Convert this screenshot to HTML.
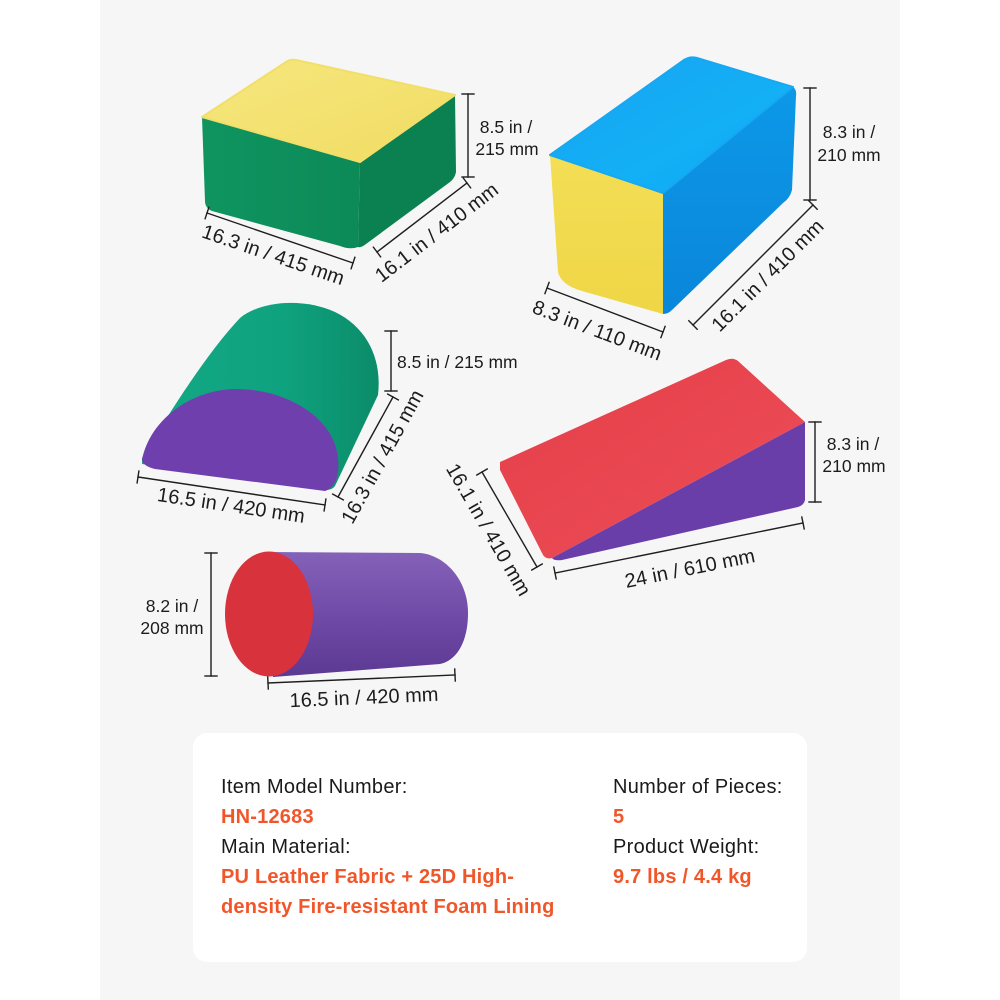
<!DOCTYPE html>
<html><head><meta charset="utf-8"><style>
html,body{margin:0;padding:0;background:#fff;}
svg{display:block;}
.d{stroke:#1e1e1e;stroke-width:1.4;fill:none;stroke-linecap:square}
.l{font-family:"Liberation Sans",sans-serif;fill:#1c1c1c;}
.h{font-size:17.5px;}
.r{font-size:20px;}
.k{font-family:"Liberation Sans",sans-serif;font-size:20px;fill:#1a1a1a;letter-spacing:0.3px}
.o{font-family:"Liberation Sans",sans-serif;font-size:20px;fill:#f1562b;font-weight:bold;letter-spacing:0.2px}
</style></head><body>
<svg width="1000" height="1000" viewBox="0 0 1000 1000" xmlns="http://www.w3.org/2000/svg">
<defs>
<linearGradient id="yTop" x1="0" y1="0" x2="1" y2="1"><stop offset="0" stop-color="#f6e77e"/><stop offset="1" stop-color="#f1dc63"/></linearGradient>
<linearGradient id="gFront" x1="0" y1="0" x2="1" y2="0"><stop offset="0" stop-color="#0f9460"/><stop offset="1" stop-color="#0c8a58"/></linearGradient>
<linearGradient id="bTop" x1="0" y1="0" x2="1" y2="1"><stop offset="0" stop-color="#17a3ef"/><stop offset="0.6" stop-color="#13b0f6"/><stop offset="1" stop-color="#0ea6f0"/></linearGradient>
<linearGradient id="bSide" x1="0" y1="0" x2="0" y2="1"><stop offset="0" stop-color="#0d98e8"/><stop offset="1" stop-color="#0a86da"/></linearGradient>
<linearGradient id="yFront" x1="0" y1="0" x2="0" y2="1"><stop offset="0" stop-color="#f3de55"/><stop offset="1" stop-color="#efd646"/></linearGradient>
<linearGradient id="teal" x1="0" y1="0" x2="1" y2="0"><stop offset="0" stop-color="#13a985"/><stop offset="0.6" stop-color="#0fa27e"/><stop offset="1" stop-color="#0b8c69"/></linearGradient>
<linearGradient id="red" x1="0" y1="0" x2="1" y2="1"><stop offset="0" stop-color="#e53f4a"/><stop offset="1" stop-color="#ec4d56"/></linearGradient>
<linearGradient id="cyl" x1="0" y1="0" x2="0" y2="1"><stop offset="0" stop-color="#8562b9"/><stop offset="0.5" stop-color="#704ba8"/><stop offset="1" stop-color="#5c3993"/></linearGradient>
</defs>
<rect x="0" y="0" width="1000" height="1000" fill="#ffffff"/>
<rect x="100" y="0" width="800" height="1000" fill="#f6f6f6"/>

<!-- Cube -->
<path d="M202,117 L360,162 L358,247 Q350,250 340,246 L212,211 Q205,208 205,201 Z" fill="url(#gFront)"/>
<path d="M360,162 L455,95 L456,172 Q455,178 450,182 L366,244 Q361,248 358,247 Z" fill="#0b8151"/>
<path d="M202,117 L286,62 Q290,59 296,60 L455,95 L360,162 Z" fill="url(#yTop)" stroke="#f2df6a" stroke-width="2" stroke-linejoin="round"/>

<!-- Blue box -->
<path d="M663,193 L793,87 Q797,90 796,96 L792,190 Q790,198 783,203 L672,310 Q668,314 663,314 Z" fill="url(#bSide)"/>
<path d="M550,155 L663,193 L663,314 L582,291 Q561,285 558,272 Z" fill="url(#yFront)"/>
<path d="M550,155 L684,60 Q690,56 697,58 L793,87 L663,193 Z" fill="url(#bTop)" stroke="#16a8f2" stroke-width="2" stroke-linejoin="round"/>

<!-- Half cylinder -->
<path d="M142,458 C165,420 205,355 240,318 C262,300 305,298 335,312 C368,328 382,360 378,395 L335,486 Q332,490 326,490 L142,464 Z" fill="url(#teal)"/>
<path d="M142,460 C150,420 190,390 235,389 C290,389 335,420 338,458 C340,478 334,488 325,491 L155,469 Q143,466 142,460 Z" fill="#6f40ad"/>

<!-- Wedge -->
<path d="M500,462 L726,360 Q733,357 738,361 L805,422 L552,558 Q545,560 542,553 L500,470 Z" fill="url(#red)"/>
<path d="M805,422 L805,500 Q804,505 798,507 L562,560 Q554,561 552,558 Z" fill="#6a3ea8"/>

<!-- Cylinder -->
<path d="M267,552 L420,553 C445,555 468,580 468,613 C468,640 458,660 440,664 L273,677 Z" fill="url(#cyl)"/>
<ellipse cx="269" cy="614" rx="44" ry="62.5" fill="#d8333d"/>

<!-- Dimension lines -->
<g class="d">
<line x1="207" y1="213" x2="353" y2="263"/><line x1="205.1" y1="218.7" x2="208.9" y2="207.3"/><line x1="351.1" y1="268.7" x2="354.9" y2="257.3"/>
<line x1="377" y1="252" x2="467" y2="183"/><line x1="380.6" y1="256.8" x2="373.4" y2="247.2"/><line x1="470.6" y1="187.8" x2="463.4" y2="178.2"/>
<line x1="468" y1="94" x2="468" y2="177"/><line x1="462" y1="94" x2="474" y2="94"/><line x1="462" y1="177" x2="474" y2="177"/>
<line x1="810" y1="88" x2="810" y2="200"/><line x1="804" y1="88" x2="816" y2="88"/><line x1="804" y1="200" x2="816" y2="200"/>
<line x1="547" y1="288" x2="663" y2="332"/><line x1="544.9" y1="293.6" x2="549.1" y2="282.4"/><line x1="660.9" y1="337.6" x2="665.1" y2="326.4"/>
<line x1="693" y1="325" x2="813" y2="205"/><line x1="697.2" y1="329.2" x2="688.8" y2="320.8"/><line x1="817.2" y1="209.2" x2="808.8" y2="200.8"/>
<line x1="391" y1="331" x2="391" y2="391"/><line x1="385" y1="331" x2="397" y2="331"/><line x1="385" y1="391" x2="397" y2="391"/>
<line x1="338" y1="497" x2="393" y2="397"/><line x1="343.3" y1="499.9" x2="332.7" y2="494.1"/><line x1="398.3" y1="399.9" x2="387.7" y2="394.1"/>
<line x1="138" y1="477" x2="325" y2="505"/><line x1="137.1" y1="482.9" x2="138.9" y2="471.1"/><line x1="324.1" y1="510.9" x2="325.9" y2="499.1"/>
<line x1="815" y1="422" x2="815" y2="502"/><line x1="809" y1="422" x2="821" y2="422"/><line x1="809" y1="502" x2="821" y2="502"/>
<line x1="555" y1="573" x2="803" y2="523"/><line x1="556.2" y1="578.9" x2="553.8" y2="567.1"/><line x1="804.2" y1="528.9" x2="801.8" y2="517.1"/>
<line x1="482" y1="472" x2="537" y2="567"/><line x1="476.8" y1="475" x2="487.2" y2="469"/><line x1="531.8" y1="570" x2="542.2" y2="564"/>
<line x1="211" y1="553" x2="211" y2="676"/><line x1="205" y1="553" x2="217" y2="553"/><line x1="205" y1="676" x2="217" y2="676"/>
<line x1="268" y1="683" x2="455" y2="675"/><line x1="268.3" y1="689" x2="267.7" y2="677"/><line x1="455.3" y1="681" x2="454.7" y2="669"/>
</g>

<!-- Dimension labels -->
<g class="l" dominant-baseline="central">
<text class="r" x="273" y="255.5" text-anchor="middle" transform="rotate(18.9 273 255.5)">16.3 in / 415 mm</text>
<text class="r" x="437" y="233" text-anchor="middle" transform="rotate(-37.5 437 233)">16.1 in / 410 mm</text>
<text class="h" x="506" y="127" text-anchor="middle">8.5 in /</text>
<text class="h" x="507" y="149" text-anchor="middle">215 mm</text>
<text class="h" x="849" y="132" text-anchor="middle">8.3 in /</text>
<text class="h" x="849" y="155" text-anchor="middle">210 mm</text>
<text class="r" x="597" y="331" text-anchor="middle" transform="rotate(20.8 597 331)">8.3 in / 110 mm</text>
<text class="r" x="768" y="276" text-anchor="middle" transform="rotate(-45 768 276)">16.1 in / 410 mm</text>
<text class="h" x="397" y="362" text-anchor="start">8.5 in / 215 mm</text>
<text class="r" x="383" y="457" text-anchor="middle" transform="rotate(-61.2 383 457)">16.3 in / 415 mm</text>
<text class="r" x="231" y="506" text-anchor="middle" transform="rotate(8.5 231 506)">16.5 in / 420 mm</text>
<text class="h" x="853" y="444" text-anchor="middle">8.3 in /</text>
<text class="h" x="854" y="466" text-anchor="middle">210 mm</text>
<text class="r" x="690" y="569" text-anchor="middle" transform="rotate(-11.4 690 569)">24 in / 610 mm</text>
<text class="r" x="488" y="530" text-anchor="middle" transform="rotate(60 488 530)">16.1 in / 410 mm</text>
<text class="h" x="172" y="606" text-anchor="middle">8.2 in /</text>
<text class="h" x="172" y="628" text-anchor="middle">208 mm</text>
<text class="r" x="364" y="698" text-anchor="middle" transform="rotate(-2.5 364 698)">16.5 in / 420 mm</text>
</g>

<!-- Info card -->
<rect x="193" y="733" width="614" height="229" rx="14" ry="14" fill="#ffffff"/>
<text class="k" x="221" y="793">Item Model Number:</text>
<text class="o" x="221" y="823">HN-12683</text>
<text class="k" x="221" y="853">Main Material:</text>
<text class="o" x="221" y="883">PU Leather Fabric + 25D High-</text>
<text class="o" x="221" y="913">density Fire-resistant Foam Lining</text>
<text class="k" x="613" y="793">Number of Pieces:</text>
<text class="o" x="613" y="823">5</text>
<text class="k" x="613" y="853">Product Weight:</text>
<text class="o" x="613" y="883">9.7 lbs / 4.4 kg</text>
</svg>
</body></html>
